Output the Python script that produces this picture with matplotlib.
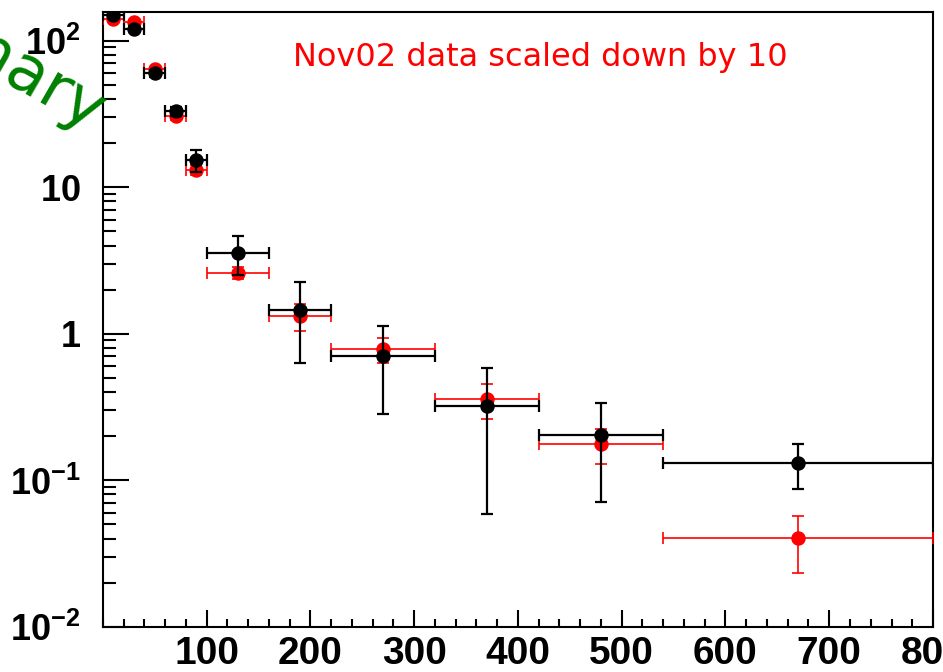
import matplotlib
matplotlib.use('Agg')
import matplotlib.pyplot as plt
from matplotlib.ticker import FixedLocator, MultipleLocator, LogLocator, NullFormatter

plt.rcParams['mathtext.fontset'] = 'custom'
plt.rcParams['mathtext.rm'] = 'Liberation Sans:bold'
plt.rcParams['mathtext.default'] = 'rm'

#bin centres and half widths (x errors)
x_center = [10, 30, 50, 70, 90, 130, 190, 270, 370, 480, 670]
x_half = [10, 10, 10, 10, 10, 30, 30, 50, 50, 60, 130]

#black points
black_y = [149, 121, 60, 33, 15.4, 3.57, 1.45, 0.705, 0.321, 0.203, 0.132]
black_err = [6, 5, 3.5, 2.5, 2.6, 1.05, 0.82, 0.42, 0.262, 0.132, 0.045]

#red points (Nov02 data scaled down by 10)
red_y = [140, 134, 64, 30.5, 13.2, 2.61, 1.32, 0.783, 0.357, 0.176, 0.0401]
red_err = [4, 4, 2.5, 1.5, 1.0, 0.25, 0.28, 0.147, 0.095, 0.047, 0.0167]

xtick_vals = [100, 200, 300, 400, 500, 600, 700, 800]
xtick_labels = ['100', '200', '300', '400', '500', '600', '700', '800']
ytick_vals = [0.01, 0.1, 1, 10, 100]
ytick_labels = ['$10^{-2}$', '$10^{-1}$', '$1$', '$10$', '$10^{2}$']

fig = plt.figure(figsize=(9.43, 6.72), dpi=100)
ax = fig.add_axes([0.1092, 0.0674, 0.8802, 0.9152])

ax.errorbar(x_center, red_y, xerr=x_half, yerr=red_err, fmt='o', color='#ff0000',
            markersize=9.4, elinewidth=1.2, capsize=4, capthick=1.2, zorder=3)
ax.errorbar(x_center, black_y, xerr=x_half, yerr=black_err, fmt='o', color='black',
            markersize=9.4, elinewidth=1.6, capsize=4, capthick=1.6, zorder=4)

ax.set_yscale('log')
ax.set_xlim(0, 800)
ax.set_ylim(0.01, 158)

ax.xaxis.set_major_locator(FixedLocator(xtick_vals))
ax.set_xticklabels(xtick_labels)
ax.xaxis.set_minor_locator(MultipleLocator(20))
ax.yaxis.set_major_locator(FixedLocator(ytick_vals))
ax.set_yticklabels(ytick_labels)
ax.yaxis.set_minor_locator(LogLocator(base=10, subs=range(2, 10)))
ax.yaxis.set_minor_formatter(NullFormatter())

ax.tick_params(axis='x', which='major', direction='in', length=12, width=1.5,
               top=False, labelsize=28, pad=7)
ax.tick_params(axis='x', which='minor', direction='in', length=6, width=1.5, top=False)
ax.tick_params(axis='y', which='major', direction='in', length=19, width=1.5,
               right=False, labelsize=26, pad=16)
ax.tick_params(axis='y', which='minor', direction='in', length=9.5, width=1.5, right=False)
for lab in ax.get_xticklabels():
    lab.set_family('Liberation Sans')
    lab.set_weight('bold')
for sp in ax.spines.values():
    sp.set_linewidth(1.5)

ax.text(0.5265, 0.926, 'Nov02 data scaled down by 10', color='#ff0000', fontsize=23,
        ha='center', va='center', family='DejaVu Sans', transform=ax.transAxes)

#"Preliminary" stamp, mostly off the left edge
fig.text(0.096, 0.80, 'Preliminary', color='#008000', fontsize=46, rotation=-30,
         rotation_mode='anchor', ha='right', va='baseline', family='DejaVu Sans')

fig.savefig('out.png', dpi=100)
